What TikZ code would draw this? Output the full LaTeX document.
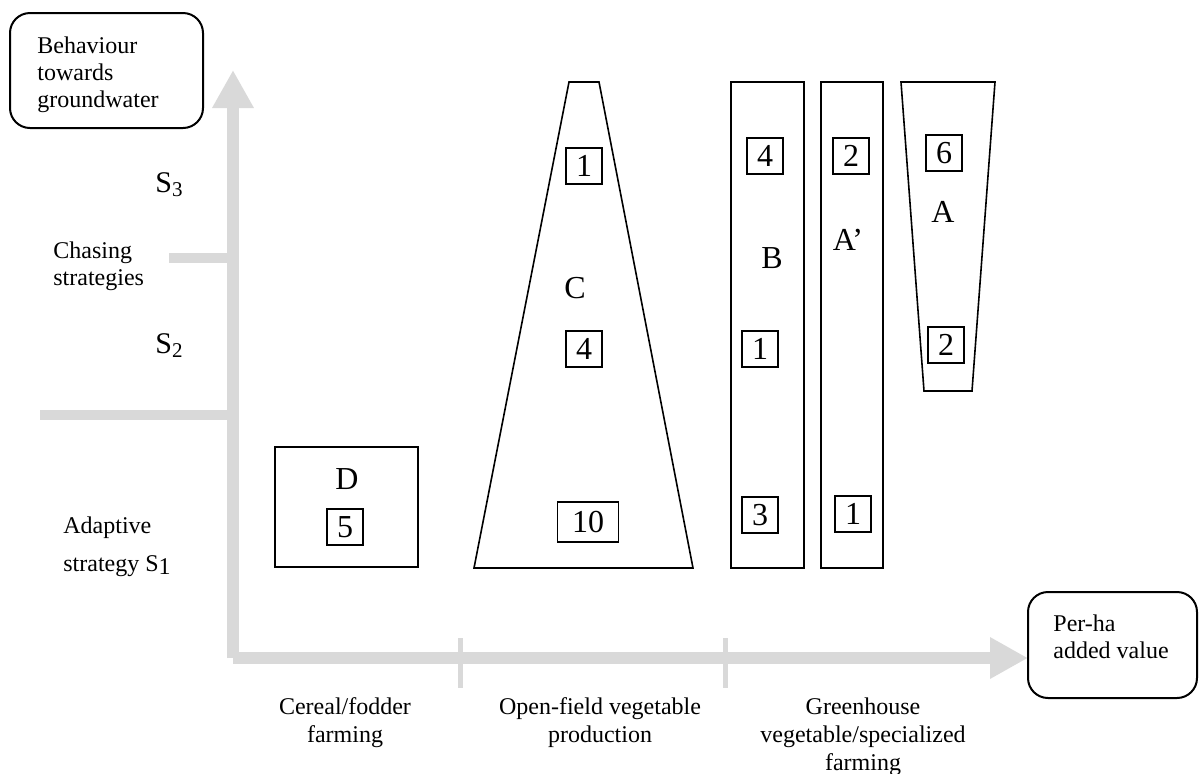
\documentclass[tikz,border=0pt]{standalone}
\usepackage{fontspec}
\setmainfont{Liberation Serif}
\usetikzlibrary{arrows.meta}
\definecolor{axisgray}{RGB}{217,217,217}

\begin{document}
\begin{tikzpicture}[x=0.5pt,y=-0.5pt]
    \tikzstyle{axisline} = [draw=axisgray, line width=6pt, -{Triangle[length=19pt,width=19.5pt]}]
    \tikzstyle{strategyline} = [draw=axisgray, line width=5pt]
    \tikzstyle{sectortick} = [draw=axisgray, line width=2.5pt]
    \tikzstyle{groupshape} = [draw=black, line width=0.8pt]
    \tikzstyle{roundbox} = [draw=black, line width=1pt, rounded corners=10pt]
    \tikzstyle{countbox} = [rectangle, draw=black, line width=0.65pt, minimum width=18pt, minimum height=18pt, inner sep=0pt, font=\fontsize{16}{16}\selectfont]
    \tikzstyle{grouplabel} = [inner sep=0pt, font=\fontsize{16}{16}\selectfont]
    \tikzstyle{annot} = [inner sep=0pt, align=left, anchor=north west, font=\fontsize{12}{13.5}\selectfont]
    \tikzstyle{sector} = [inner sep=0pt, align=center, anchor=north, font=\fontsize{12}{14}\selectfont]
    \tikzstyle{level} = [inner sep=0pt, anchor=base west, font=\fontsize{15}{15}\selectfont]

    \useasboundingbox (0,0) rectangle (1200,773);

    %%% DRAW THE AXES
    \coordinate (O) at (233,658);
    \coordinate (ytip) at (233,70);
    \coordinate (xtip) at (1028,658);
    \draw[axisline] (O) -- (ytip);
    \draw[axisline] (O) -- (xtip);

    \coordinate (chase-l) at (169,258);
    \coordinate (chase-r) at (227,258);
    \coordinate (adapt-l) at (40,415);
    \coordinate (adapt-r) at (227,415);
    \draw[strategyline] (chase-l) -- (chase-r);
    \draw[strategyline] (adapt-l) -- (adapt-r);

    \foreach \x in {460,725}
        \draw[sectortick] (\x,638) -- (\x,688);

    %%% DRAW THE GROUPS
    \draw[groupshape] (275,447) rectangle (418,567);
    \draw[groupshape] (569,82) -- (599,82) -- (693,568) -- (474,568) -- cycle;
    \draw[groupshape] (731,82) rectangle (804,568);
    \draw[groupshape] (821,82) rectangle (883,568);
    \draw[groupshape] (901,82) -- (995,82) -- (972,391) -- (924,391) -- cycle;

    \node[grouplabel] (D) at (347,479) {D};
    \node[grouplabel] (C) at (575,288) {C};
    \node[grouplabel] (B) at (772,258) {B};
    \node[grouplabel] (A') at (848,240) {A’};
    \node[grouplabel] (A) at (943,212) {A};

    \foreach \name/\x/\y/\n in {D-5/345/527/5, C-1/584/166/1, C-4/584/349/4,
                               B-4/765/156/4, B-1/760/349/1, B-3/760/515/3,
                               Ap-2/851/156/2, Ap-1/853/514/1,
                               A-6/944/153/6, A-2/946/345/2}
        \node[countbox] (\name) at (\x,\y) {\n};
    \node[countbox, minimum width=30.5pt, minimum height=20pt] (C-10) at (588,522) {10};

    %%% ANOTATE
    \draw[roundbox] (10,13) rectangle (203,128);
    \node[annot] (behav) at (37,36) {Behaviour\\towards\\groundwater};
    \draw[roundbox] (1028,592) rectangle (1197,698);
    \node[annot] (perha) at (1053,614) {Per-ha\\added value};

    \node[level] (S3) at (155,192) {S\textsubscript{3}};
    \node[level] (S2) at (155,353) {S\textsubscript{2}};
    \node[annot] (chasing) at (53,241) {Chasing\\strategies};
    \node[annot] (adaptive) at (63,516) {Adaptive\\[5.5pt]strategy S\raisebox{-1.5pt}{1}};

    \node[sector] (cereal) at (345,697) {Cereal/fodder\\farming};
    \node[sector] (open) at (600,697) {Open-field vegetable\\production};
    \node[sector] (green) at (863,697) {Greenhouse\\vegetable/specialized\\farming};

\end{tikzpicture}
\end{document}
